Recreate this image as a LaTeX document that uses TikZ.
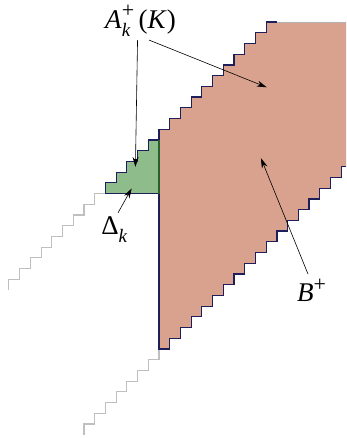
\documentclass[tikz,border=0pt]{standalone}
\usepackage{fontspec}
\setmainfont{Liberation Serif}
\usetikzlibrary{arrows.meta}

\definecolor{bplus}{RGB}{216,162,142}
\definecolor{deltak}{RGB}{143,188,139}
\definecolor{latt}{RGB}{30,30,90}
\definecolor{deltaedge}{RGB}{40,95,45}

\newcommand{\scr}{\fontsize{19}{20}\selectfont}
\newcommand{\splus}{\raisebox{0.38em}{\fontsize{22}{22}\selectfont +}}
\newcommand{\supsub}[1]{\rlap{\raisebox{-0.3em}{\scr\itshape #1}}\splus}

\begin{document}
\begin{tikzpicture}[x=10.72pt, y=10.72pt, >={Stealth[length=10pt,width=6pt]},
    stair/.style={latt, line width=1.2pt},
    ghost/.style={gray!50, line width=1.1pt},
    lab/.style={font=\fontsize{27}{30}\selectfont, inner sep=0pt, anchor=base west}]
    \useasboundingbox (-14.832,-8.302) rectangle (17.444,32.556);

    \fill[bplus] (0,0)
        \foreach \k in {1,...,17} { -- (\k,\k-1) -- (\k,\k) }
        -- (17.444,17) -- (17.444,30.5) -- (11,30.5)
        \foreach \k in {10,...,0} { -- (\k,\k+20.5) -- (\k,\k+19.5) }
        -- cycle;
    \fill[deltak] (-5,14.5)
        \foreach \k in {0,...,4} { -- (\k-5,\k+15.5) -- (\k-4,\k+15.5) }
        -- (0,14.5) -- cycle;

    \draw[ghost] (-14,5.5)
        \foreach \k in {0,...,8} { -- (\k-14,\k+6.5) -- (\k-13,\k+6.5) };
    \draw[ghost] (-7,-8)
        \foreach \k in {0,...,6} { -- (\k-7,\k-7) -- (\k-6,\k-7) } -- (0,0);
    \draw[gray!60, line width=0.8pt] (11,30.5) -- (17.444,30.5);

    \draw[stair] (-5,14.5)
        \foreach \k in {0,...,15} { -- (\k-5,\k+15.5) -- (\k-4,\k+15.5) };
    \draw[stair] (17.444,17) -- (17,17)
        \foreach \k in {16,...,0} { -- (\k+1,\k) -- (\k,\k) } -- (0,14.5) -- (-5,14.5);
    \draw[deltaedge, line width=1.2pt] (0,14.5) -- (0,19.5);

    \node[lab] (Ak) at (-5.04,29.94) {\textit{A}\supsub{k}\,(\textit{K})};
    \node[lab] (Dk) at (-5.4,10.65) {Δ\raisebox{-0.3em}{\scr\itshape k}};
    \node[lab] (Bp) at (12.87,4.41) {\textit{B}\splus};

    \coordinate (sA1) at (-2.0,28.82);
    \coordinate (sA2) at (-0.93,28.82);
    \coordinate (sD) at (-3.82,12.71);
    \coordinate (sB) at (13.90,6.99);
    \coordinate (tA1) at (-2.2,16.98);
    \coordinate (tA2) at (10.05,24.41);
    \coordinate (tD) at (-2.55,14.98);
    \coordinate (tB) at (9.51,17.80);

    \draw[->, line width=0.6pt] (sA1) -- (tA1);
    \draw[->, line width=0.6pt] (sA2) -- (tA2);
    \draw[->, line width=0.6pt] (sD) -- (tD);
    \draw[->, line width=0.6pt] (sB) -- (tB);
\end{tikzpicture}
\end{document}
